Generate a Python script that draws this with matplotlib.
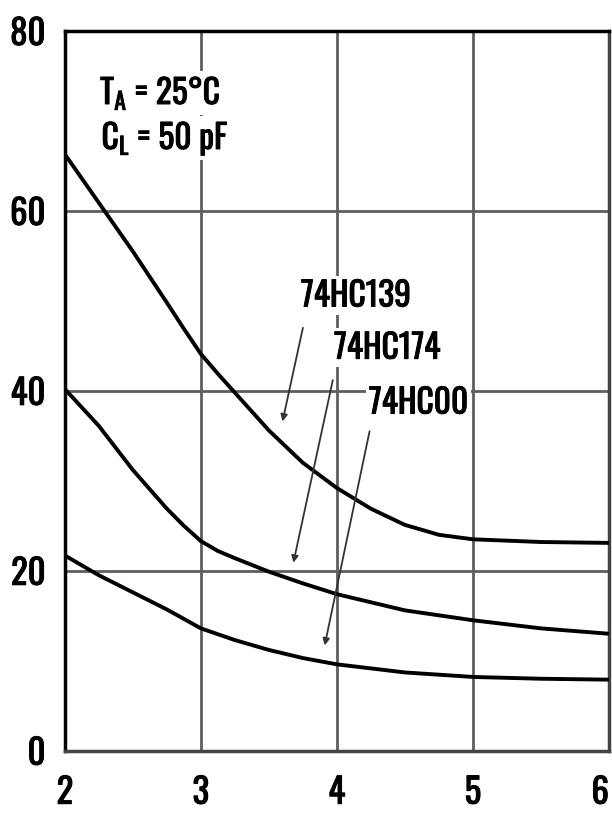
import matplotlib
matplotlib.use("Agg")
import matplotlib.pyplot as plt
import matplotlib.patheffects as pe

FONT = ['Oswald', 'DejaVu Sans']
plt.rcParams['font.family'] = FONT
plt.rcParams['mathtext.fontset'] = 'custom'
plt.rcParams['mathtext.rm'] = 'Oswald'
plt.rcParams['mathtext.it'] = 'Oswald'

# Data
x_139 = [2, 2.25, 2.5, 2.75, 2.875, 3, 3.125, 3.25, 3.5, 3.75, 4, 4.25, 4.5, 4.75, 5, 5.5, 6]
y_139 = [66.3, 60.9, 55.5, 49.8, 46.9, 44.1, 41.9, 39.8, 35.6, 32.0, 29.2, 26.9, 25.1, 24.0, 23.5, 23.2, 23.1]

x_174 = [2, 2.25, 2.5, 2.75, 2.875, 3, 3.125, 3.25, 3.5, 3.75, 4, 4.5, 5, 5.5, 6]
y_174 = [40.2, 36.1, 31.2, 26.9, 25.0, 23.3, 22.2, 21.4, 19.9, 18.6, 17.4, 15.6, 14.5, 13.6, 13.0]

x_00 = [2, 2.25, 2.5, 2.75, 3, 3.25, 3.5, 3.75, 4, 4.5, 5, 5.5, 6]
y_00 = [21.7, 19.5, 17.6, 15.7, 13.6, 12.3, 11.2, 10.3, 9.6, 8.7, 8.2, 8.0, 7.9]

x_ticks = [2, 3, 4, 5, 6]
y_ticks = [0, 20, 40, 60, 80]

fig = plt.figure(figsize=(6.12, 8.16), dpi=100)
ax = fig.add_axes([0.106, 0.080, 0.889, 0.882])

bold = [pe.withStroke(linewidth=0.7, foreground='black')]

ax.set_xlim(2, 6)
ax.set_ylim(0, 80)
ax.set_xticks(x_ticks)
ax.set_yticks(y_ticks)
ax.set_xticklabels([str(v) for v in x_ticks])
ax.set_yticklabels([str(v) for v in y_ticks])
ax.tick_params(length=0, labelsize=25, colors='black')
ax.tick_params(axis='x', pad=18)
ax.tick_params(axis='y', pad=14)
for lab in ax.get_xticklabels() + ax.get_yticklabels():
    lab.set_path_effects(bold)
# keep the last x label inside the figure edge
ax.get_xticklabels()[-1].set_horizontalalignment('right')

ax.grid(True, color='#5e5e5e', linewidth=2.0)
ax.set_axisbelow(True)
for side, sp in ax.spines.items():
    sp.set_linewidth(2.5)
    sp.set_color('black' if side in ('left', 'top') else '#444444')

for xs, ys in [(x_139, y_139), (x_174, y_174), (x_00, y_00)]:
    ax.plot(xs, ys, color='black', linewidth=2.8, solid_capstyle='butt',
            solid_joinstyle='round', zorder=3)

box = dict(facecolor='white', edgecolor='none', pad=2)
t1 = ax.text(2.26, 73.1, r'T$_\mathrm{A}$ = 25°C', fontsize=24, ha='left', va='center',
             bbox=box, zorder=4)
t2 = ax.text(2.27, 68.1, r'C$_\mathrm{L}$ = 50 pF', fontsize=24, ha='left', va='center',
             bbox=box, zorder=4)
t1.set_path_effects(bold)
t2.set_path_effects(bold)

labels = [
    ('74HC139', (4.14, 50.6), (3.75, 47.0), (3.60, 36.6)),
    ('74HC174', (4.37, 44.8), (3.97, 41.2), (3.68, 20.9)),
    ('74HC00', (4.60, 38.7), (4.24, 35.5), (3.91, 11.7)),
]
for txt, tpos, a0, a1 in labels:
    t = ax.text(tpos[0], tpos[1], txt, fontsize=24, ha='center', va='center',
                bbox=box, zorder=4)
    t.set_path_effects(bold)
    ax.annotate('', xy=a1, xytext=a0,
                arrowprops=dict(arrowstyle='-|>', color='#333333', lw=1.3,
                                mutation_scale=10, shrinkA=0, shrinkB=0),
                zorder=5)

fig.savefig('out.png', dpi=100)
